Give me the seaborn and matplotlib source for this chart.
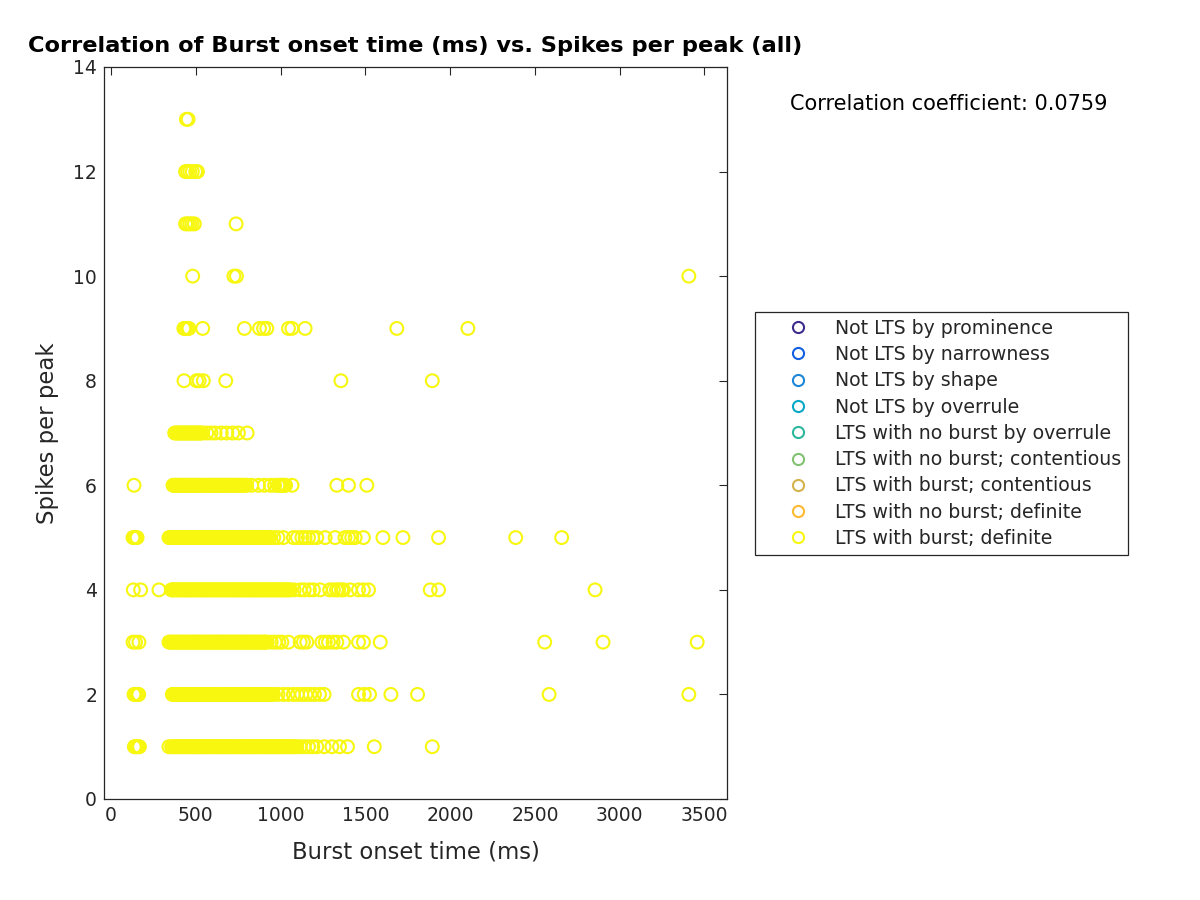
import numpy as np
import pandas as pd
import matplotlib
matplotlib.use("Agg")
import matplotlib.pyplot as plt
import seaborn as sns
from matplotlib.lines import Line2D

# ---------------- data ----------------
categories = [
    "Not LTS by prominence",
    "Not LTS by narrowness",
    "Not LTS by shape",
    "Not LTS by overrule",
    "LTS with no burst by overrule",
    "LTS with no burst; contentious",
    "LTS with burst; contentious",
    "LTS with no burst; definite",
    "LTS with burst; definite",
]
palette = ["#3d2b8e", "#1060e0", "#1c86d8", "#0aa8c8", "#2db89e",
           "#82c272", "#d4b24c", "#fdb932", "#f7f70f"]

# burst onset times (ms) for each number of spikes per peak
onset_1 = [138, 146, 152, 160, 168,
           342, 358, 366, 375, 384, 392, 401, 410, 418, 427, 436, 444, 453, 462, 470,
           479, 488, 496, 505, 514, 522, 531, 540, 548, 557, 566, 574, 583, 592, 600,
           609, 618, 626, 635, 644, 652, 661, 670, 678, 687, 696, 704, 713, 722, 730,
           739, 748, 756, 765, 774, 782, 791, 800, 808, 817, 826, 834, 843, 852, 860,
           869, 878, 886, 895, 904, 912, 921, 930, 938, 947, 956, 964, 973, 982, 990,
           999, 1008, 1016, 1025, 1034, 1042, 1051, 1060, 1068, 1077, 1086, 1096,
           1116, 1140, 1165, 1190, 1214, 1257, 1303, 1348, 1395, 1553, 1895]
onset_2 = [136, 143, 150, 157, 164,
           362, 370, 379, 388, 396, 405, 414, 422, 431, 440, 448, 457, 466, 474, 483,
           492, 500, 509, 518, 526, 535, 544, 552, 561, 570, 578, 587, 596, 604, 613,
           622, 630, 639, 648, 656, 665, 674, 682, 691, 700, 708, 717, 726, 734, 743,
           752, 760, 769, 778, 786, 795, 804, 812, 821, 830, 838, 847, 856, 864, 873,
           882, 890, 899, 908, 916, 925, 934, 942, 950, 958,
           985, 1017, 1045, 1076, 1100, 1125, 1150, 1175, 1200, 1230, 1257,
           1460, 1494, 1525, 1651, 1808, 2584, 3408]
onset_3 = [130, 145, 165,
           342, 351, 360, 368, 377, 386, 394, 403, 412, 420, 429, 438, 446, 455, 464,
           472, 481, 490, 498, 507, 516, 524, 533, 542, 550, 559, 568, 576, 585, 594,
           602, 611, 620, 628, 637, 646, 654, 663, 672, 680, 689, 698, 706, 715, 724,
           732, 741, 750, 758, 767, 776, 784, 793, 802, 810, 819, 828, 836, 845, 854,
           862, 871, 880, 888, 897, 906, 913, 919,
           945, 968, 990, 1008, 1047, 1116, 1135, 1155, 1244, 1264, 1283, 1310, 1332,
           1371, 1460, 1489, 1588, 2558, 2902, 3457]
onset_4 = [132, 175, 283,
           356, 364, 373, 382, 390, 399, 408, 416, 425, 434, 442, 451, 460, 468, 477,
           486, 494, 503, 512, 520, 529, 538, 546, 555, 564, 572, 581, 590, 598, 607,
           616, 624, 633, 642, 650, 659, 668, 676, 685, 694, 702, 711, 720, 728, 737,
           746, 754, 763, 772, 780, 789, 798, 806, 815, 824, 832, 841, 850, 858, 867,
           876, 884, 893, 902, 910, 919, 928, 936, 945, 954, 962, 971, 980, 988, 997,
           1006, 1014, 1023, 1032, 1040, 1049, 1057,
           1080, 1116, 1140, 1170, 1194, 1234, 1290, 1312, 1330, 1342, 1360, 1371,
           1411, 1460, 1489, 1519, 1883, 1932, 2855]
onset_5 = [130, 138, 146, 154,
           342, 350, 359, 368, 376, 385, 394, 402, 411, 420, 428, 437, 446, 454, 463,
           472, 480, 489, 498, 506, 515, 524, 532, 541, 550, 558, 567, 576, 584, 593,
           602, 610, 619, 628, 636, 645, 654, 662, 671, 680, 688, 697, 706, 714, 723,
           732, 740, 749, 758, 766, 775, 784, 792, 801, 810, 818, 827, 836, 844, 853,
           862, 870, 879, 888, 896, 905, 914, 922, 930, 938,
           960, 985, 1017, 1076, 1100, 1126, 1145, 1165, 1190, 1214, 1263, 1322, 1380,
           1401, 1420, 1440, 1489, 1604, 1722, 1932, 2387, 2658]
onset_6 = [136,
           366, 374, 383, 392, 400, 409, 418, 426, 435, 444, 452, 461, 470, 478, 487,
           496, 504, 513, 522, 530, 539, 548, 556, 565, 574, 582, 591, 600, 608, 617,
           626, 634, 643, 652, 660, 669, 678, 686, 695, 704, 712, 721, 730, 738, 747,
           756, 764, 773, 782, 790, 800,
           830, 870, 905, 940, 965, 985, 994, 1003, 1012, 1021, 1030, 1068,
           1332, 1401, 1509]
onset_7 = [376, 384, 393, 402, 410, 419, 428, 436, 445, 454, 462, 471, 480, 488, 497,
           506, 514, 523, 532, 540,
           565, 590, 614, 650, 683, 718, 752, 803]
onset_8 = [431, 505, 520, 545, 677, 1356, 1895]
onset_9 = [430, 440, 450, 460, 541, 787, 876, 900, 919, 1047, 1067, 1145, 1686, 2105]
onset_10 = [482, 725, 740, 3408]
onset_11 = [440, 452, 465, 478, 492, 738]
onset_12 = [440, 452, 465, 480, 500, 510]
onset_13 = [445, 455]

spike_counts = list(range(1, 14))
onsets = [onset_1, onset_2, onset_3, onset_4, onset_5, onset_6, onset_7,
          onset_8, onset_9, onset_10, onset_11, onset_12, onset_13]

x_ticks = [0, 500, 1000, 1500, 2000, 2500, 3000, 3500]
y_ticks = [0, 2, 4, 6, 8, 10, 12, 14]
corr_text = "Correlation coefficient: 0.0759"

df = pd.DataFrame(
    [(x, k) for k, xs in zip(spike_counts, onsets) for x in xs],
    columns=["onset", "spikes"],
)

# ---------------- plot ----------------
sns.set_theme(style="white")
plt.rcParams["font.family"] = ["DejaVu Sans"]

fig = plt.figure(figsize=(12, 9), dpi=100)
ax = fig.add_axes([104 / 1200, 1 - 799 / 900, 623 / 1200, 732 / 900])

sns.scatterplot(data=df, x="onset", y="spikes", marker="o", s=85,
                facecolor="none", edgecolor=palette[-1], linewidth=1.5,
                legend=False, ax=ax)

ax.set_xlim(-41, 3633)
ax.set_ylim(0, 14)
ax.set_xticks(x_ticks)
ax.set_yticks(y_ticks)
ax.tick_params(direction="in", top=True, right=True, length=6, width=0.8,
               labelsize=13.5, color="#262626", labelcolor="#262626", pad=5)
for sp in ax.spines.values():
    sp.set_visible(True)
    sp.set_color("#262626")
    sp.set_linewidth(0.9)

ax.set_xlabel("Burst onset time (ms)", fontsize=16.4, color="#262626", labelpad=11)
ax.set_ylabel("Spikes per peak", fontsize=16.4, color="#262626", labelpad=10)
ax.set_title("Correlation of Burst onset time (ms) vs. Spikes per peak (all)",
             fontsize=16.2, fontweight="bold", color="black", pad=11)

fig.text(790 / 1200, 1 - 104 / 900, corr_text, fontsize=15, color="black",
         ha="left", va="center")

handles = [Line2D([], [], marker="o", linestyle="none", markerfacecolor="none",
                  markeredgecolor=c, markeredgewidth=1.5, markersize=8)
           for c in palette]
leg = fig.legend(handles, categories, loc="upper left",
                 bbox_to_anchor=(755 / 1200, 1 - 312 / 900),
                 fontsize=13.6, frameon=True, fancybox=False, framealpha=1,
                 edgecolor="#262626", borderpad=0.36, handlelength=3.8,
                 handletextpad=0.1, labelspacing=0.385, borderaxespad=0)
leg.get_frame().set_linewidth(0.9)

fig.savefig("out.png", dpi=100)
